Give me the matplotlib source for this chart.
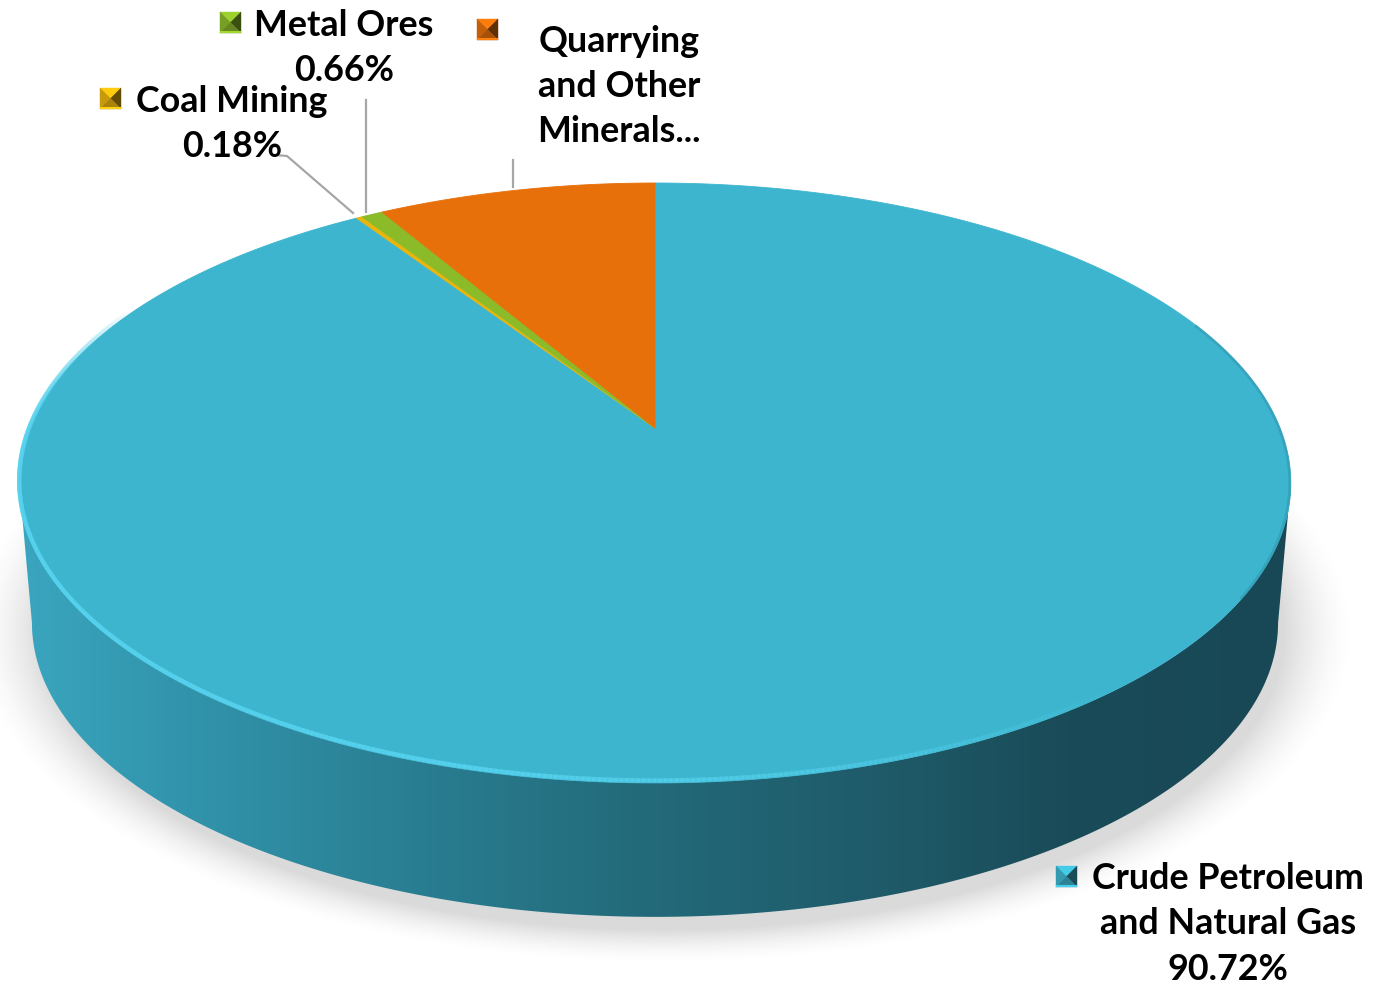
import numpy as np
import matplotlib
matplotlib.use("Agg")
import matplotlib.pyplot as plt
from matplotlib.patches import Polygon
from matplotlib.collections import LineCollection
from matplotlib.colors import LinearSegmentedColormap, to_rgb

# ---- data -----------------------------------------------------------------
categories = ["Crude Petroleum and Natural Gas", "Coal Mining", "Metal Ores",
              "Quarrying and Other Minerals"]
shares = [90.72, 0.18, 0.66, 8.44]
label_lines = [
    ["Crude Petroleum", "and Natural Gas", "90.72%"],
    ["Coal Mining", "0.18%"],
    ["Metal Ores", "0.66%"],
    ["Quarrying", "and Other", "Minerals..."],
]
slice_colors = ["#3DB5CF", "#E9B50D", "#8CBB29", "#E8700A"]

# ---- layout (pixel space) -------------------------------------------------
W, H = 1380, 988
CX, CY = 655.0, 428.0          # projected pie centre
RA, RB, PK = 625.0, 289.9, 0.1833   # projection of the unit circle
DEPTH, SHRINK = 141.0, 0.98
label_anchor = [(1228, 878), (232, 101), (344, 25), (619, 41)]
marker_pos = [(1056, 866), (100, 88), (220, 12), (477, 19)]
LINE_STEP = 45.5

fig = plt.figure(figsize=(W / 100, H / 100), dpi=100)
ax = fig.add_axes([0, 0, 1, 1])
ax.set_xlim(0, W)
ax.set_ylim(H, 0)
ax.axis("off")

# slice angles from matplotlib's own pie layout
hax = fig.add_axes([0, 0, 0.05, 0.05])
wedges, _ = hax.pie(shares, startangle=90, counterclock=False)
spans = [(w.theta1, w.theta2) for w in wedges]
fig.delaxes(hax)


def top_pt(theta):
    t = np.radians(theta)
    x, y = np.cos(t), np.sin(t)
    w = 1 + PK * y
    return CX + RA * x / w, CY - RB * y / w


def bot_pt(theta):
    t = np.radians(theta)
    x, y = np.cos(t), np.sin(t)
    w = 1 + PK * y
    return CX + SHRINK * RA * x / w, CY + DEPTH - SHRINK * RB * y / w


# ---- soft shadow under the disc ------------------------------------------
gy, gx = np.mgrid[0:H:2, 0:W:2]
r = np.sqrt(((gx - 662) / 640.0) ** 2 + ((gy - 632) / 306.0) ** 2)
a = np.clip((1.08 - r) / 0.11, 0, 1) ** 1.6 * 0.32
shadow = np.zeros(gx.shape + (4,))
shadow[..., :3] = 0.55
shadow[..., 3] = a
ax.imshow(shadow, extent=(0, W, H, 0), interpolation="bilinear", zorder=1)

# ---- side wall (front half only is visible) -------------------------------
lo = 180 + np.degrees(np.arcsin(PK))
hi = 360 - np.degrees(np.arcsin(PK))
th = np.linspace(lo, hi, 300)
tx, ty = top_pt(th)
bx, by = bot_pt(th[::-1])
side = Polygon(np.column_stack([np.r_[tx, bx], np.r_[ty, by]]),
               closed=True, facecolor="none", edgecolor="none", zorder=2)
ax.add_patch(side)
side_cmap = LinearSegmentedColormap.from_list(
    "side", [(0.0, "#3BA6C0"), (0.1, "#3398B0"), (0.3, "#2A7F93"),
             (0.48, "#236B7B"), (0.68, "#1F5A69"), (0.82, "#1A4B58"),
             (1.0, "#184855")])
grad = np.linspace(0, 1, 512).reshape(1, -1)
im = ax.imshow(grad, cmap=side_cmap, extent=(15, 1300, 980, 300),
               aspect="auto", zorder=2, interpolation="bilinear")
im.set_clip_path(side)

# ---- top face slices ------------------------------------------------------
for (t1, t2), col in zip(spans, slice_colors):
    n = max(6, int((t2 - t1) * 3))
    th = np.linspace(t1, t2, n)
    px, py = top_pt(th)
    verts = np.column_stack([np.r_[CX, px], np.r_[CY, py]])
    ax.add_patch(Polygon(verts, closed=True, facecolor=col,
                         edgecolor=col, lw=0.6, zorder=3))

# bright rim along the front edge of the top face
th = np.linspace(155, 320, 400)
rx, ry = top_pt(th)
pts = np.column_stack([rx, ry - 2.5]).reshape(-1, 1, 2)
segs = np.concatenate([pts[:-1], pts[1:]], axis=1)
mid = 0.5 * (th[:-1] + th[1:])
alpha = np.clip((mid - 155) / 30, 0, 1) * np.clip((310 - mid) / 55, 0, 1)
rim_rgb = np.array(to_rgb("#56D2EE"))
rim_cols = np.column_stack([np.tile(rim_rgb, (len(mid), 1)), alpha * 0.8])
ax.add_collection(LineCollection(segs, colors=rim_cols, linewidths=3.2,
                                 capstyle="round", zorder=4))

# darker soft rim on the right edge
th = np.linspace(-32, 22, 200)
rx, ry = top_pt(th)
ax.plot(rx - 1, ry, color="#2E8FA6", lw=2.0, alpha=0.45, zorder=4)

# ---- leader lines ---------------------------------------------------------
lead = dict(color="#A6A6A6", lw=1.6, zorder=5)
ax.plot([275, 287, 353], [155, 156, 213], **lead)
ax.plot([366, 366], [100, 212], **lead)
ax.plot([513, 513], [160, 187], **lead)


# ---- bevelled legend keys -------------------------------------------------
def shade(col, f):
    c = np.array(to_rgb(col))
    return tuple(np.clip(c * f, 0, 1))


def bevel_key(x0, y0, col, s=21):
    c = (x0 + s / 2, y0 + s / 2)
    tris = [
        ([(x0, y0), (x0 + s, y0), c], shade(col, 1.12)),
        ([(x0, y0), (x0, y0 + s), c], shade(col, 0.85)),
        ([(x0 + s, y0), (x0 + s, y0 + s), c], shade(col, 0.42)),
        ([(x0, y0 + s), (x0 + s, y0 + s), c], shade(col, 0.72)),
    ]
    for v, fc in tris:
        ax.add_patch(Polygon(v, closed=True, facecolor=fc, edgecolor=fc,
                             lw=0.3, zorder=6))
    ax.plot([x0 + 1, x0 + s - 1], [y0 + s - 1, y0 + s - 1],
            color=shade(col, 1.15), lw=1.5, zorder=6)


for (mx, my), col in zip(marker_pos, slice_colors):
    bevel_key(mx, my, col)

# ---- labels ---------------------------------------------------------------
font = dict(family="Lato", fontweight="bold", fontsize=25.8, color="black",
            ha="center", va="center", zorder=7)
for lines, (lx, ly) in zip(label_lines, label_anchor):
    for i, txt in enumerate(lines):
        ax.text(lx, ly + i * LINE_STEP, txt, **font)

fig.savefig("out.png", dpi=100)
